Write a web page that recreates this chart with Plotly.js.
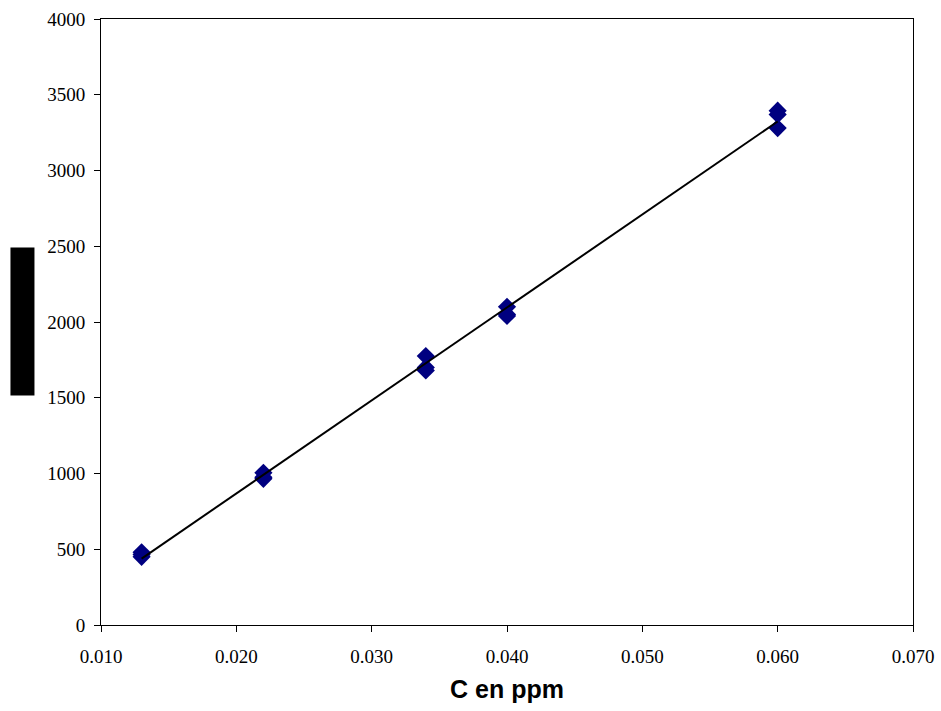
<!DOCTYPE html>
<html>
<head>
<meta charset="utf-8">
<script src="https://cdn.plot.ly/plotly-3.0.1.min.js"></script>
<style>html,body{margin:0;padding:0;background:#fff;}#chart{width:941px;height:711px;}</style>
</head>
<body>
<div id="chart"></div>
<script>
const concentrations = [0.013, 0.013, 0.013, 0.022, 0.022, 0.022, 0.034, 0.034, 0.034, 0.040, 0.040, 0.040, 0.060, 0.060, 0.060];
const intensities = [480, 450, 465, 1005, 975, 965, 1775, 1680, 1700, 2100, 2050, 2040, 3395, 3370, 3280];
const xTicks = [0.010, 0.020, 0.030, 0.040, 0.050, 0.060, 0.070];
const yTicks = [0, 500, 1000, 1500, 2000, 2500, 3000, 3500, 4000];
const xTitle = "C en ppm";
const yTitle = "Intensité";

// least-squares trendline computed from the data
const n = concentrations.length;
const mx = concentrations.reduce((a, b) => a + b, 0) / n;
const my = intensities.reduce((a, b) => a + b, 0) / n;
let sxy = 0, sxx = 0;
for (let i = 0; i < n; i++) { sxy += (concentrations[i] - mx) * (intensities[i] - my); sxx += (concentrations[i] - mx) ** 2; }
const slope = sxy / sxx, intercept = my - slope * mx;
const xMin = Math.min(...concentrations), xMax = Math.max(...concentrations);
const lineX = [xMin, xMax];
const lineY = lineX.map(x => slope * x + intercept);

const serif = "Liberation Serif, Times New Roman, serif";
const data = [
  { x: concentrations, y: intensities, type: "scatter", mode: "markers",
    marker: { symbol: "diamond", size: 14, color: "#000080" }, showlegend: false },
  { x: lineX, y: lineY, type: "scatter", mode: "lines",
    line: { color: "#000000", width: 2 }, showlegend: false }
];
const layout = {
  width: 941, height: 711,
  margin: { l: 101, r: 28, t: 19, b: 86 },
  paper_bgcolor: "#ffffff", plot_bgcolor: "#ffffff",
  showlegend: false,
  xaxis: {
    range: [0.010, 0.070], tickvals: xTicks, tickformat: ".3f",
    showgrid: false, zeroline: false, showline: true, mirror: true,
    linecolor: "#000", linewidth: 1, ticks: "outside", ticklen: 6, tickcolor: "#000",
    ticklabelstandoff: 8,
    tickfont: { family: serif, size: 19, color: "#000" },
    title: { text: xTitle, font: { family: "Liberation Sans Narrow, Liberation Sans, Arial, sans-serif", size: 25, color: "#000", weight: "bold" }, standoff: 14 }
  },
  yaxis: {
    range: [0, 4000], tickvals: yTicks,
    showgrid: false, zeroline: false, showline: true, mirror: true,
    linecolor: "#000", linewidth: 1, ticks: "outside", ticklen: 6, tickcolor: "#000",
    ticklabelstandoff: 5,
    tickfont: { family: serif, size: 19, color: "#000" }
  },
  annotations: [{
    text: yTitle, xref: "paper", yref: "paper", x: -0.0967, y: 0.5008,
    xanchor: "center", yanchor: "middle", textangle: -90, showarrow: false,
    width: 143, height: 19,
    font: { family: "Liberation Sans, Arial, sans-serif", size: 20, color: "#000", weight: "bold" },
    bgcolor: "#000000", borderpad: 2
  }]
};
Plotly.newPlot("chart", data, layout, { displayModeBar: false, staticPlot: true });
</script>
</body>
</html>
